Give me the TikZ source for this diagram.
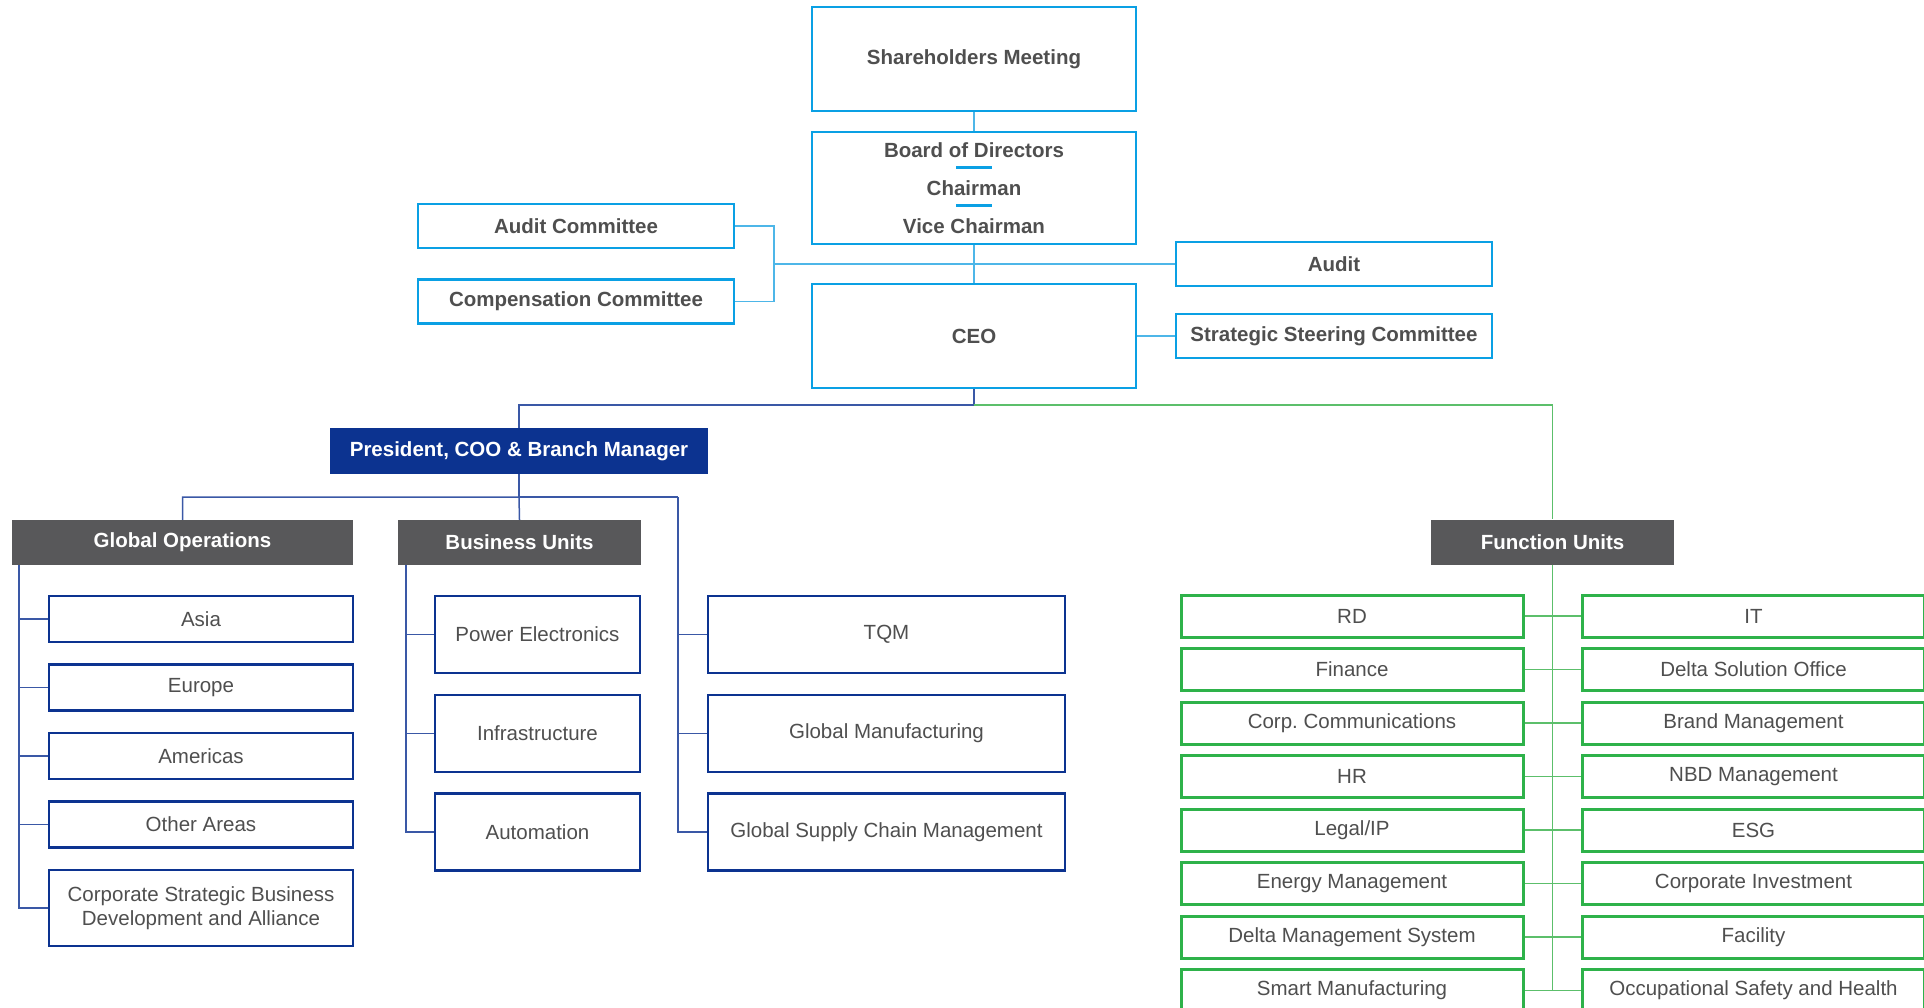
\documentclass[tikz,border=0pt]{standalone}
\usepackage{fontspec}
\setmainfont{Liberation Sans}
\frenchspacing
\definecolor{skyline}{HTML}{0AA0E4}
\definecolor{skyconn}{HTML}{4DB6E8}
\definecolor{navy}{HTML}{0C3390}
\definecolor{navyconn}{HTML}{3A58A6}
\definecolor{leaf}{HTML}{2EB24A}
\definecolor{leafconn}{HTML}{5CBF6B}
\definecolor{headgray}{HTML}{58585A}
\definecolor{ink}{HTML}{4F4F4F}
\begin{document}
\begin{tikzpicture}[x=1pt, y=-1pt,
    box/.style={draw, line width=2.5pt, fill=white, text=ink, inner sep=0pt, align=center, font=\fontsize{20.5}{24.5}\selectfont},
    topbox/.style={box, draw=skyline, font=\fontsize{20.5}{38}\selectfont\bfseries},
    navybox/.style={box, draw=navy},
    leafbox/.style={box, draw=leaf, line width=3pt, minimum width=342pt, minimum height=42pt},
    headbox/.style={fill=headgray, text=white, inner sep=0pt, minimum height=45pt, font=\fontsize{20.5}{24.5}\selectfont\bfseries},
    skyln/.style={draw=skyconn, line width=1.5pt},
    navyln/.style={draw=navyconn, line width=1.5pt},
    leafln/.style={draw=leafconn, line width=1.5pt}]
\useasboundingbox (0,0) rectangle (1924,1008);
\clip (0,0) rectangle (1924,1008);

\node[topbox, minimum width=324pt, minimum height=104pt] (share) at (974,59) {Shareholders Meeting};
\node[topbox, minimum width=324pt, minimum height=112pt] (board) at (974,188) {Board of Directors\\Chairman\\Vice Chairman};
\node[topbox, minimum width=324pt, minimum height=104pt] (ceo) at (974,336) {CEO};
\node[topbox, minimum width=316pt, minimum height=44pt] (audcom) at (576,226) {Audit Committee};
\node[topbox, minimum width=316pt, minimum height=44pt] (compcom) at (576,301.5) {Compensation Committee};
\node[topbox, minimum width=316pt, minimum height=44pt] (audit) at (1334,264) {Audit};
\node[topbox, minimum width=316pt, minimum height=44pt] (ssc) at (1334,336) {Strategic Steering Committee};
\foreach \dy in {20,-18}
{
    \draw[skyline, line width=3pt]([xshift=-18pt, yshift=\dy pt]board.center)--([xshift=18pt, yshift=\dy pt]board.center);
}
\coordinate (bend) at (774,264);
\draw[skyln](share.south)--(board.north);
\draw[skyln](board.south)--(ceo.north);
\draw[skyln](audcom.east)-|(bend)|-(compcom.east);
\draw[skyln](bend)--(audit.west);
\draw[skyln, line width=2.5pt](ceo.east)--(ssc.west);

\node[fill=navy, text=white, inner sep=0pt, minimum width=378pt, minimum height=46pt, font=\fontsize{20.5}{24.5}\selectfont\bfseries] (pres) at (519,451) {President, COO \& Branch Manager};
\node[headbox, minimum width=341pt] (glob) at (182.5,542.5) {Global Operations};
\node[headbox, minimum width=243pt] (bu) at (519.5,542.5) {Business Units};
\node[headbox, minimum width=243pt] (fu) at (1552.5,542) {Function Units};
\coordinate (split) at (974,405);
\coordinate (fork) at (519,497);
\coordinate (opsbus) at (678,497);
\draw[navyln](ceo.south)--(split)-|(pres.north);
\draw[leafln](split)-|(fu.north);
\draw[navyln](pres.south)--(fork);
\draw[navyln](glob.north)|-(fork)--(bu.north);
\draw[navyln](fork)--(opsbus);

\foreach \name/\txt [count=\i from 0] in {asia/Asia, europe/Europe, americas/Americas, other/Other Areas}
{
    \node[navybox, minimum width=304pt, minimum height=46pt] (\name) at (201,619+68.5*\i) {\txt};
}
\node[navybox, minimum width=304pt, minimum height=76pt] (corp) at (201,908) {Corporate Strategic Business\\Development and Alliance};
\coordinate (globbus) at ([xshift=7pt]glob.south west);
\draw[navyln](globbus)|-(corp.west);
\foreach \name in {asia, europe, americas, other}
{
    \draw[navyln](\name.west)--(\name.west-|globbus);
}

\foreach \name/\txt [count=\i from 0] in {power/Power Electronics, infra/Infrastructure, auto/Automation}
{
    \node[navybox, minimum width=205pt, minimum height=77pt] (\name) at (537.5,634.5+98.75*\i) {\txt};
}
\coordinate (bubus) at ([xshift=8pt]bu.south west);
\draw[navyln](bubus)|-(auto.west);
\foreach \name in {power, infra}
{
    \draw[navyln](\name.west)--(\name.west-|bubus);
}

\foreach \name/\txt [count=\i from 0] in {tqm/TQM, gmfg/Global Manufacturing, gscm/Global Supply Chain Management}
{
    \node[navybox, minimum width=357pt, minimum height=77pt] (\name) at (886.5,634.5+98.75*\i) {\txt};
}
\draw[navyln](opsbus)|-(gscm.west);
\foreach \name in {tqm, gmfg}
{
    \draw[navyln](\name.west)--(\name.west-|opsbus);
}

\foreach \ltxt/\rtxt [count=\i from 0] in {RD/IT, Finance/Delta Solution Office, Corp. Communications/Brand Management, HR/NBD Management, {Legal/IP}/ESG, Energy Management/Corporate Investment, Delta Management System/Facility, Smart Manufacturing/Occupational Safety and Health}
{
    \node[leafbox] (fl\i) at (1352,616+53.5*\i) {\ltxt};
    \node[leafbox] (fr\i) at (1753.5,616+53.5*\i) {\rtxt};
    \draw[leafln](fl\i.east)--(fr\i.west);
}
\draw[leafln](fu.south)--(fu.south|-fl7.east);
\end{tikzpicture}
\end{document}
